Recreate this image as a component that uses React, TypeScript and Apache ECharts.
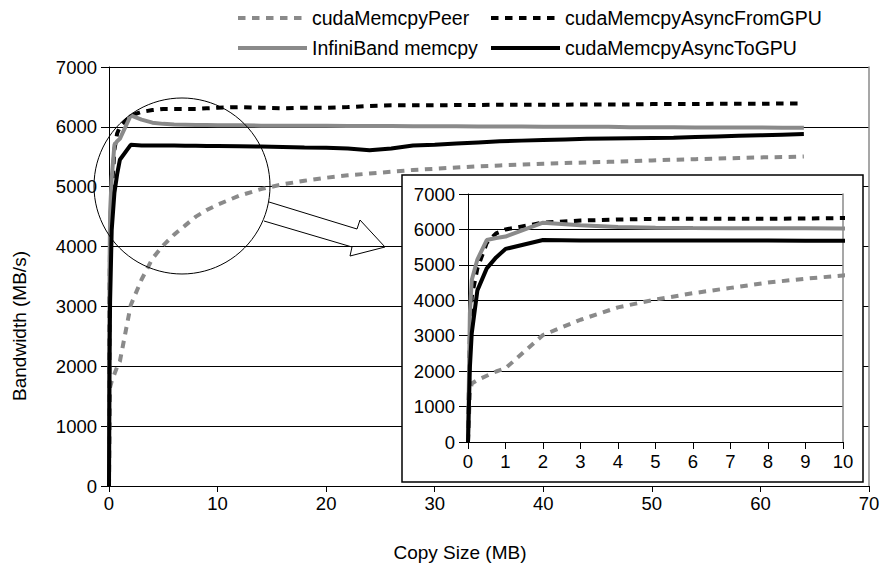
import React, { useEffect, useRef } from "react";
import * as echarts from "echarts";

const sizes = [0, 0.05, 0.1, 0.25, 0.5, 0.75, 1, 2, 3, 4, 5, 6, 7, 8, 9, 10, 12, 14, 16, 18, 20, 22, 24, 26, 28, 30, 32, 34, 36, 38, 40, 42, 44, 46, 48, 50, 52, 54, 56, 58, 60, 62, 64];
const peer = [0, 1375, 1650, 1750, 1870, 1990, 2080, 3020, 3450, 3800, 4020, 4200, 4350, 4500, 4610, 4700, 4850, 4960, 5040, 5100, 5150, 5190, 5220, 5250, 5280, 5300, 5320, 5340, 5355, 5370, 5385, 5395, 5405, 5415, 5425, 5440, 5450, 5460, 5470, 5480, 5490, 5495, 5505];
const fromGPU = [0, 2970, 4100, 4900, 5620, 5890, 6000, 6190, 6250, 6280, 6300, 6300, 6300, 6300, 6310, 6320, 6330, 6320, 6310, 6320, 6320, 6330, 6350, 6360, 6360, 6360, 6365, 6365, 6370, 6370, 6370, 6370, 6375, 6375, 6375, 6380, 6380, 6380, 6385, 6385, 6385, 6390, 6390];
const infiniband = [0, 3630, 4570, 5150, 5700, 5760, 5800, 6190, 6120, 6070, 6050, 6040, 6035, 6030, 6030, 6025, 6025, 6020, 6020, 6020, 6020, 6015, 6015, 6015, 6010, 6010, 6010, 6005, 6005, 6005, 6000, 6000, 6000, 6000, 5995, 5995, 5995, 5990, 5990, 5990, 5990, 5985, 5985];
const toGPU = [0, 2100, 3070, 4280, 4900, 5210, 5450, 5700, 5690, 5690, 5690, 5690, 5685, 5685, 5680, 5680, 5675, 5670, 5665, 5655, 5650, 5640, 5610, 5640, 5690, 5700, 5720, 5740, 5760, 5770, 5780, 5790, 5800, 5805, 5810, 5815, 5820, 5830, 5840, 5850, 5860, 5870, 5880];

const seriesNames = ["cudaMemcpyPeer", "cudaMemcpyAsyncFromGPU", "InfiniBand memcpy", "cudaMemcpyAsyncToGPU"];
const FONT = "Liberation Sans, Arial, sans-serif";
const GRAY = "#8a8a8a";

const pairs = (ys: number[]) => sizes.map((x, i) => [x, ys[i]]);

export default function App() {
  const ref = useRef<HTMLDivElement>(null);
  useEffect(() => {
    if (!ref.current) return;
    const chart = echarts.init(ref.current, undefined, { renderer: "svg" });
    const DASH: any = [7.5, 6.5];
    const styles = [
      { color: GRAY, type: DASH },
      { color: "#000", type: DASH },
      { color: GRAY, type: "solid" },
      { color: "#000", type: "solid" },
    ];
    const vals = [peer, fromGPU, infiniband, toGPU];
    const mk = (i: number, v: number[], inset: boolean) => ({
      name: inset ? seriesNames[i] + " " : seriesNames[i],
      type: "line",
      xAxisIndex: inset ? 1 : 0,
      yAxisIndex: inset ? 2 : 0,
      data: pairs(v),
      symbol: "none",
      z: (inset ? 5 : 2) + i * 0.01,
      lineStyle: { width: 4, color: styles[i].color, type: styles[i].type, cap: "butt" },
      itemStyle: { color: styles[i].color },
    });
    const mainSeries = vals.map((v, i) => mk(i, v, false));
    const insetSeries = vals.map((v, i) => mk(i, v, true));
    const labelStyle = { color: "#000", fontSize: 18.5, fontFamily: FONT };
    const legendBase = {
      itemWidth: 69,
      itemHeight: 14,
      padding: 0,
      itemStyle: { opacity: 0 },
      lineStyle: { width: 4 },
      textStyle: { color: "#000", fontSize: 19.5, fontFamily: FONT },
      selectedMode: false,
    };
    const option: any = {
      animation: false,
      backgroundColor: "#fff",
      legend: [
        { ...legendBase, data: [seriesNames[0]], left: 236, top: 8 },
        { ...legendBase, data: [seriesNames[1]], left: 489, top: 8 },
        { ...legendBase, data: [seriesNames[2]], left: 236, top: 38 },
        { ...legendBase, data: [seriesNames[3]], left: 489, top: 38 },
      ],
      grid: [
        { left: 109, top: 67, width: 760, height: 419 },
        { left: 468, top: 194, width: 375, height: 248 },
      ],
      xAxis: [
        {
          type: "value", gridIndex: 0, min: 0, max: 70, interval: 10,
          axisLine: { lineStyle: { color: "#000", width: 1 } },
          axisTick: { show: true, length: 6, lineStyle: { color: "#000" } },
          axisLabel: { ...labelStyle, margin: 8 },
          splitLine: { show: false },
        },
        {
          type: "value", gridIndex: 1, min: 0, max: 10, interval: 1, z: 4,
          axisLine: { lineStyle: { color: "#000", width: 1 } },
          axisTick: { show: true, length: 7, lineStyle: { color: "#000" } },
          axisLabel: { ...labelStyle, margin: 10 },
          splitLine: { show: false },
        },
      ],
      yAxis: [
        {
          type: "value", gridIndex: 0, min: 0, max: 7000, interval: 1000,
          axisLine: { show: true, lineStyle: { color: "#000", width: 1 } },
          axisTick: { show: true, length: 8, lineStyle: { color: "#000" } },
          axisLabel: { ...labelStyle, margin: 12, formatter: (v: number) => String(v) },
          splitLine: { show: true, lineStyle: { color: "#000", width: 1 } },
        },
        {
          type: "value", gridIndex: 0, min: 0, max: 7000, position: "right",
          axisLine: { show: true, lineStyle: { color: GRAY, width: 1.5 } },
          axisTick: { show: false }, axisLabel: { show: false }, splitLine: { show: false },
        },
        {
          type: "value", gridIndex: 1, min: 0, max: 7000, interval: 1000, z: 4,
          axisLine: { show: true, lineStyle: { color: "#000", width: 1 } },
          axisTick: { show: true, length: 9, lineStyle: { color: "#000" } },
          axisLabel: { ...labelStyle, margin: 13, formatter: (v: number) => String(v) },
          splitLine: { show: true, lineStyle: { color: "#000", width: 1 } },
        },
        {
          type: "value", gridIndex: 1, min: 0, max: 7000, position: "right", z: 4,
          axisLine: { show: true, lineStyle: { color: GRAY, width: 1.5 } },
          axisTick: { show: false }, axisLabel: { show: false }, splitLine: { show: false },
        },
      ],
      series: [...mainSeries, ...insetSeries],
      graphic: {
        elements: [
          {
            type: "rect", z: 3,
            shape: { x: 402, y: 175, width: 461, height: 307 },
            style: { fill: "#fff", stroke: "#000", lineWidth: 1.5 },
          },
          {
            type: "circle", z: 6,
            shape: { cx: 182, cy: 186, r: 88 },
            style: { fill: "none", stroke: "#000", lineWidth: 1 },
          },
          {
            type: "polyline", z: 6,
            shape: { points: [[269, 202], [357, 229], [360, 220], [385, 247], [350, 256], [352, 247], [264, 221]] },
            style: { fill: "none", stroke: "#000", lineWidth: 1 },
          },
          {
            type: "text", z: 6, x: 460, y: 552,
            style: { text: "Copy Size (MB)", fontSize: 19, fontFamily: FONT, fill: "#000", align: "center", verticalAlign: "middle", textAlign: "center", textVerticalAlign: "middle" },
          },
          {
            type: "text", z: 6, x: 19, y: 326, rotation: Math.PI / 2,
            style: { text: "Bandwidth (MB/s)", fontSize: 19, fontFamily: FONT, fill: "#000", align: "center", verticalAlign: "middle", textAlign: "center", textVerticalAlign: "middle" },
          },
        ],
      },
    };
    chart.setOption(option);
    return () => chart.dispose();
  }, []);
  return <div ref={ref} style={{ position: "fixed", left: 0, top: 0, width: 883, height: 565, background: "#fff" }} />;
}
